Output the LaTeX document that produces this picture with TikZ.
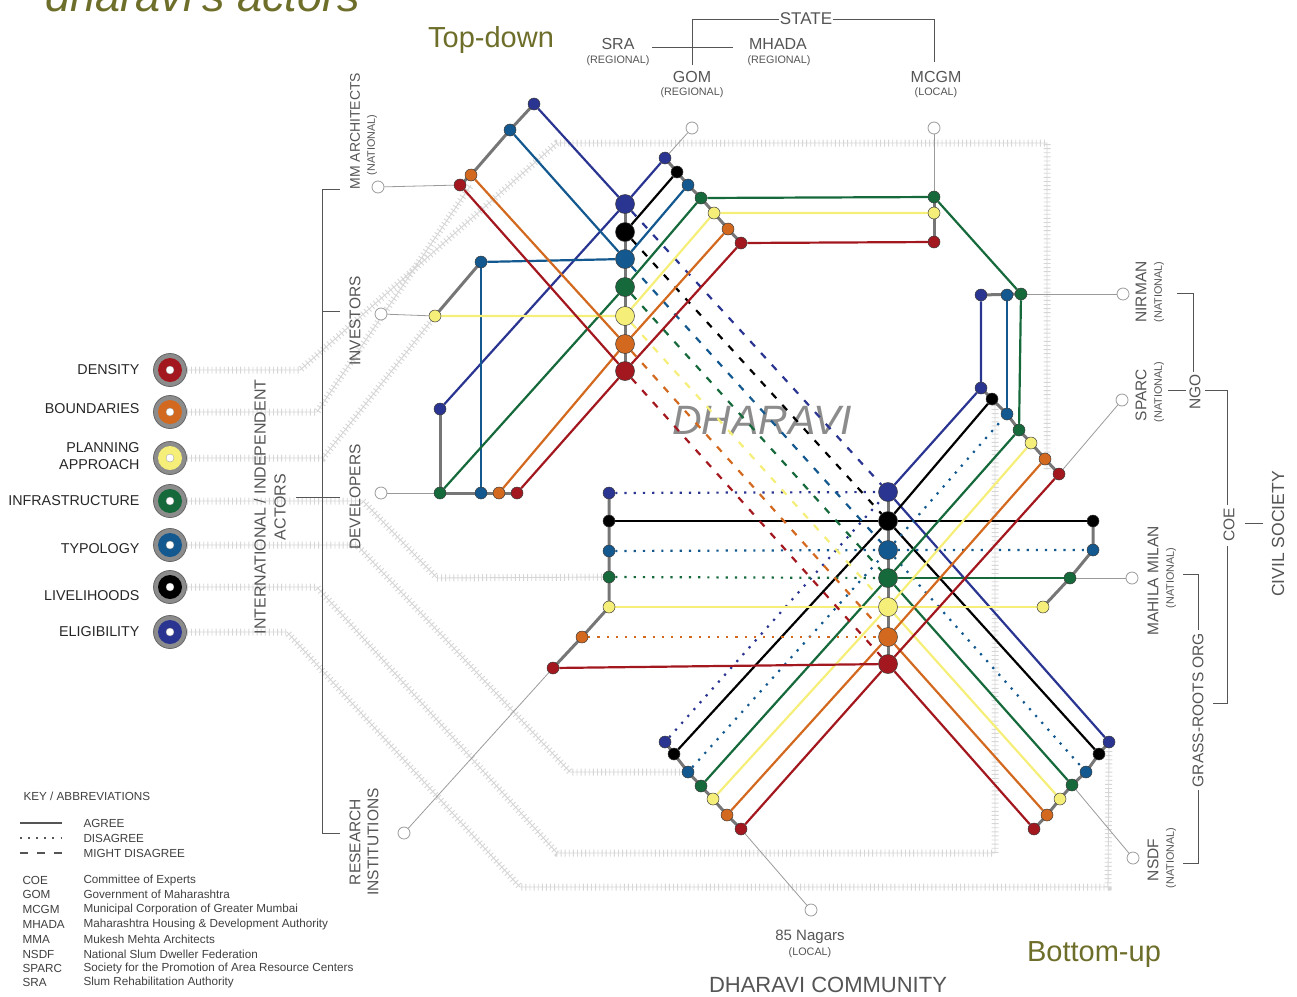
\documentclass[tikz,border=0pt]{standalone}
\usepackage{fontspec}
\setmainfont{Liberation Sans}
\definecolor{cR}{HTML}{A3171E}
\definecolor{cO}{HTML}{D2691F}
\definecolor{cY}{HTML}{F5EE78}
\definecolor{cG}{HTML}{15693A}
\definecolor{cB}{HTML}{13598F}
\definecolor{cK}{HTML}{000000}
\definecolor{cI}{HTML}{2A3491}
\definecolor{olive}{HTML}{6E6E2B}
\definecolor{railc}{HTML}{D6D6D6}
\definecolor{conng}{HTML}{767676}
\definecolor{thing}{HTML}{9A9A9A}
\definecolor{ndraw}{HTML}{3A3A3A}
\definecolor{tgray}{HTML}{555555}
\definecolor{dhg}{HTML}{8C8C8C}
\newcommand\fsz[2]{\fontsize{#1}{#2}\selectfont}
\newcommand\myrail[1]{\draw[railline] #1; \draw[railtick] #1;}
\pgfdeclarelayer{rails}
\pgfdeclarelayer{lines}
\pgfsetlayers{rails,lines,main}
\tikzset{
 railline/.style={draw=railc, line width=0.9pt, line join=round},
 railtick/.style={draw=railc, line width=7pt, dash pattern=on 0.9pt off 3.2pt},
 ag/.style={line width=2.2pt},
 dis/.style={line width=2.2pt, dash pattern=on 2.2pt off 7pt},
 mdis/.style={line width=2.2pt, dash pattern=on 7pt off 9pt},
 conn/.style={draw=conng, line width=3pt},
 thinl/.style={draw=thing, line width=0.8pt},
 brk/.style={draw=tgray, line width=0.8pt},
 sn/.style={circle, inner sep=0pt, minimum size=12pt, draw=ndraw, line width=0.5pt},
 bn/.style={sn, minimum size=19pt},
 actor/.style={circle, inner sep=0pt, minimum size=12pt, draw=thing, fill=white, line width=0.8pt},
 legring/.style={circle, inner sep=0pt, minimum size=33pt, fill=black!45, draw=black!60, line width=0.8pt},
 leglab/.style={anchor=east, align=right, font=\fsz{14.3}{17}, text=black!85},
 alab/.style={rotate=90, font=\fsz{15.5}{18}, text=tgray, align=center},
 small/.style={font=\fsz{10.8}{12}, text=tgray},
 keyt/.style={anchor=west, font=\fsz{11.7}{13}, text=black!75},
}
\begin{document}
\begin{tikzpicture}[x=1pt,y=-1pt]
\useasboundingbox (0,0) rectangle (1297,996);

% ---------- network nodes ----------
% upper hub
\node[bn,fill=cI] (uI) at (625,204) {};
\node[bn,fill=cK] (uK) at (625,232) {};
\node[bn,fill=cB] (uB) at (625,259) {};
\node[bn,fill=cG] (uG) at (625,287) {};
\node[bn,fill=cY] (uY) at (625,316) {};
\node[bn,fill=cO] (uO) at (625,344) {};
\node[bn,fill=cR] (uR) at (625,371) {};
% lower hub
\node[bn,fill=cI] (lI) at (888,492) {};
\node[bn,fill=cK] (lK) at (888,521) {};
\node[bn,fill=cB] (lB) at (888,550) {};
\node[bn,fill=cG] (lG) at (888,578) {};
\node[bn,fill=cY] (lY) at (888,607) {};
\node[bn,fill=cO] (lO) at (888,637) {};
\node[bn,fill=cR] (lR) at (888,664) {};
% MM architects
\node[sn,fill=cI] (mI) at (534,104) {};
\node[sn,fill=cB] (mB) at (510,130) {};
\node[sn,fill=cO] (mO) at (471,175) {};
\node[sn,fill=cR] (mR) at (460,185) {};
% investors
\node[sn,fill=cB] (iB) at (481,262) {};
\node[sn,fill=cY] (iY) at (435,316) {};
% developers
\node[sn,fill=cI] (dI) at (440,409) {};
\node[sn,fill=cG] (dG) at (440,493) {};
\node[sn,fill=cB] (dB) at (481,493) {};
\node[sn,fill=cO] (dO) at (499,493) {};
\node[sn,fill=cR] (dR) at (517,493) {};
% GOM
\node[sn,fill=cI] (gI) at (665,158) {};
\node[sn,fill=cK] (gK) at (677,172) {};
\node[sn,fill=cB] (gB) at (688,185) {};
\node[sn,fill=cG] (gG) at (701,198) {};
\node[sn,fill=cY] (gY) at (714,213) {};
\node[sn,fill=cO] (gO) at (728,229) {};
\node[sn,fill=cR] (gR) at (741,243) {};
% MCGM
\node[sn,fill=cG] (cG) at (934,197) {};
\node[sn,fill=cY] (cY) at (934,213) {};
\node[sn,fill=cR] (cR) at (934,242) {};
% NIRMAN
\node[sn,fill=cI] (nI) at (981,295) {};
\node[sn,fill=cB] (nB) at (1007,295) {};
\node[sn,fill=cG] (nG) at (1021,294) {};
% SPARC
\node[sn,fill=cI] (sI) at (981,388) {};
\node[sn,fill=cK] (sK) at (992,399) {};
\node[sn,fill=cB] (sB) at (1007,414) {};
\node[sn,fill=cG] (sG) at (1019,430) {};
\node[sn,fill=cY] (sY) at (1031,443) {};
\node[sn,fill=cO] (sO) at (1045,459) {};
\node[sn,fill=cR] (sR) at (1059,474) {};
% research
\node[sn,fill=cI] (rI) at (609,493) {};
\node[sn,fill=cK] (rK) at (609,521) {};
\node[sn,fill=cB] (rB) at (609,551) {};
\node[sn,fill=cG] (rG) at (609,577) {};
\node[sn,fill=cY] (rY) at (609,607) {};
\node[sn,fill=cO] (rO) at (582,637) {};
\node[sn,fill=cR] (rR) at (553,668) {};
% Mahila Milan
\node[sn,fill=cK] (hK) at (1093,521) {};
\node[sn,fill=cB] (hB) at (1093,550) {};
\node[sn,fill=cG] (hG) at (1070,578) {};
\node[sn,fill=cY] (hY) at (1043,607) {};
% 85 Nagars
\node[sn,fill=cI] (pI) at (665,742) {};
\node[sn,fill=cK] (pK) at (674,754) {};
\node[sn,fill=cB] (pB) at (688,772) {};
\node[sn,fill=cG] (pG) at (701,786) {};
\node[sn,fill=cY] (pY) at (713,799) {};
\node[sn,fill=cO] (pO) at (727,815) {};
\node[sn,fill=cR] (pR) at (741,829) {};
% NSDF
\node[sn,fill=cI] (fI) at (1109,742) {};
\node[sn,fill=cK] (fK) at (1099,754) {};
\node[sn,fill=cB] (fB) at (1086,772) {};
\node[sn,fill=cG] (fG) at (1072,785) {};
\node[sn,fill=cY] (fY) at (1060,799) {};
\node[sn,fill=cO] (fO) at (1047,815) {};
\node[sn,fill=cR] (fR) at (1034,829) {};

% actor end circles
\node[actor] (aMM) at (378,187) {};
\node[actor] (aInv) at (381,314) {};
\node[actor] (aDev) at (381,493) {};
\node[actor] (aRes) at (404,833) {};
\node[actor] (aGom) at (692,128) {};
\node[actor] (aMc) at (934,128) {};
\node[actor] (aNir) at (1123,294) {};
\node[actor] (aSp) at (1122,400) {};
\node[actor] (aMah) at (1132,578) {};
\node[actor] (aNs) at (1133,858) {};
\node[actor] (aNag) at (811,910) {};

% legend circles
\foreach \y/\c/\n in {370/cR/lgR, 412/cO/lgO, 458/cY/lgY, 501/cG/lgG, 545/cB/lgB, 587/cK/lgK, 632/cI/lgI} {
  \node[legring] (\n) at (170,\y) {};
  \node[circle, inner sep=0pt, minimum size=24pt, fill=\c] at (\n) {};
  \node[circle, inner sep=0pt, minimum size=8pt, fill=white, draw=black!40, line width=0.3pt] at (\n) {};
}
\node[leglab] (tR) at (143,370) {DENSITY};
\node[leglab] (tO) at (143,409) {BOUNDARIES};
\node[leglab] (tY) at (143,456) {PLANNING\\APPROACH};
\node[leglab] (tG) at (143,501) {INFRASTRUCTURE};
\node[leglab] (tB) at (143,549) {TYPOLOGY};
\node[leglab] (tK) at (143,596) {LIVELIHOODS};
\node[leglab] (tI) at (143,632) {ELIGIBILITY};

% ---------- rails ----------
\begin{pgfonlayer}{rails}
\myrail{(lgR.east) -- (300,370) -- (557,143) -- (1047,143) -- (1047,470)}
\myrail{(lgO.east) -- (317,412) -- (471,185)}
\myrail{(lgY.east) -- (323,458) -- (iY)}
\myrail{(lgG.east) -- (363,501) -- (437,578) -- (rG)}
\myrail{(lgB.east) -- (357,545) -- (570,772) -- (pB)}
\myrail{(lgK.east) -- (317,587) -- (557,853) -- (995,853) -- (995,405)}
\myrail{(lgI.east) -- (287,632) -- (520,887) -- (1108,887) -- (fI)}
\end{pgfonlayer}

% ---------- lines ----------
\begin{pgfonlayer}{lines}
\node[font=\fsz{41}{41}\itshape, text=dhg] (dhar) at (762,420) {DHARAVI};
% indigo
\draw[ag,cI] (mI) -- (uI);
\draw[ag,cI] (dI) -- (uI) -- (gI);
\draw[mdis,cI] (uI) -- (lI);
\draw[dis,cI] (pI) -- (lI);
\draw[ag,cI] (lI) -- (sI) -- (nI);
\draw[ag,cI] (lI) -- (fI);
\draw[dis,cI] (rI) -- (lI);
% black
\draw[ag,cK] (gK) -- (uK);
\draw[mdis,cK] (uK) -- (lK);
\draw[ag,cK] (rK) -- (lK) -- (hK);
\draw[ag,cK] (pK) -- (lK) -- (sK);
\draw[ag,cK] (lK) -- (fK);
% blue
\draw[ag,cB] (mB) -- (uB);
\draw[ag,cB] (gB) -- (uB);
\draw[ag,cB] (iB) -- (uB);
\draw[ag,cB] (iB) -- (dB);
\draw[mdis,cB] (uB) -- (lB);
\draw[dis,cB] (rB) -- (lB) -- (hB);
\draw[dis,cB] (pB) -- (lB) -- (sB);
\draw[ag,cB] (sB) -- (nB);
\draw[dis,cB] (lB) -- (fB);
% green
\draw[ag,cG] (dG) -- (uG) -- (gG) -- (cG) -- (nG) -- (sG);
\draw[mdis,cG] (uG) -- (lG);
\draw[dis,cG] (rG) -- (lG);
\draw[ag,cG] (lG) -- (hG);
\draw[ag,cG] (pG) -- (lG) -- (sG);
\draw[ag,cG] (lG) -- (fG);
% yellow
\draw[ag,cY] (iY) -- (uY) -- (gY) -- (cY);
\draw[mdis,cY] (uY) -- (lY);
\draw[ag,cY] (rY) -- (lY) -- (hY);
\draw[ag,cY] (pY) -- (lY) -- (sY);
\draw[ag,cY] (lY) -- (fY);
% orange
\draw[ag,cO] (mO) -- (uO);
\draw[ag,cO] (dO) -- (uO) -- (gO);
\draw[mdis,cO] (uO) -- (lO);
\draw[dis,cO] (rO) -- (lO);
\draw[ag,cO] (pO) -- (lO) -- (sO);
\draw[ag,cO] (lO) -- (fO);
% red
\draw[ag,cR] (mR) -- (uR);
\draw[ag,cR] (dR) -- (uR) -- (gR) -- (cR);
\draw[mdis,cR] (uR) -- (lR);
\draw[ag,cR] (rR) -- (lR);
\draw[ag,cR] (pR) -- (lR) -- (sR);
\draw[ag,cR] (lR) -- (fR);
% gray connectors
\draw[conn] (mI.center) -- (mB.center) -- (mO.center) -- (mR.center);
\draw[conn] (iY.center) -- (iB.center);
\draw[conn] (dI.center) -- (dG.center) -- (dR.center);
\draw[conn] (uI.center) -- (uR.center);
\draw[conn] (gI.center) -- (gK.center) -- (gB.center) -- (gG.center) -- (gY.center) -- (gO.center) -- (gR.center);
\draw[conn] (cG.center) -- (cR.center);
\draw[conn] (nI.center) -- (nG.center);
\draw[conn] (sI.center) -- (sK.center) -- (sB.center) -- (sG.center) -- (sY.center) -- (sO.center) -- (sR.center);
\draw[conn] (rI.center) -- (rY.center) -- (rO.center) -- (rR.center);
\draw[conn] (hK.center) -- (hB.center) -- (hG.center) -- (hY.center);
\draw[conn] (lI.center) -- (lR.center);
\draw[conn] (pI.center) -- (pK.center) -- (pB.center) -- (pG.center) -- (pY.center) -- (pO.center) -- (pR.center);
\draw[conn] (fI.center) -- (fK.center) -- (fB.center) -- (fG.center) -- (fY.center) -- (fO.center) -- (fR.center);
% actor links
\draw[thinl] (aMM) -- (mR);
\draw[thinl] (aInv) -- (iY);
\draw[thinl] (aDev) -- (dG);
\draw[thinl] (aRes) -- (rR);
\draw[thinl] (aGom) -- (gI);
\draw[thinl] (aMc) -- (cG);
\draw[thinl] (aNir) -- (nG);
\draw[thinl] (aSp) -- (sR);
\draw[thinl] (aMah) -- (hG);
\draw[thinl] (aNs) -- (fG);
\draw[thinl] (aNag) -- (pR);
\end{pgfonlayer}

% ---------- titles ----------
\node[anchor=base west, font=\fsz{45}{45}\itshape, text=olive] (title) at (42,11) {dharavi's actors};
\node[font=\fsz{29}{29}, text=olive] (topdown) at (491,40) {Top-down};
\node[font=\fsz{29}{29}, text=olive] (bottomup) at (1094,955) {Bottom-up};

% state labels
\node[font=\fsz{17}{17}, text=tgray, inner sep=1pt] (state) at (806,19) {STATE};
\node[font=\fsz{16}{16}, text=tgray] (sra) at (618,44) {SRA};
\node[small] (sraR) at (618,61) {(REGIONAL)};
\node[font=\fsz{16}{16}, text=tgray] (mhada) at (778,44) {MHADA};
\node[small] (mhadaR) at (779,61) {(REGIONAL)};
\node[font=\fsz{16}{16}, text=tgray] (gom) at (692,77) {GOM};
\node[small] (gomR) at (692,93) {(REGIONAL)};
\node[font=\fsz{16}{16}, text=tgray] (mcgm) at (936,77) {MCGM};
\node[small] (mcgmR) at (936,93) {(LOCAL)};
\draw[brk] (state.west) -- (692,19) -- (692,65);
\draw[brk] (state.east) -- (934,19) -- (934,62);
\draw[brk] (652,47) -- (733,47);

% left actor labels
\node[alab, font=\fsz{14}{16}] (mmlab) at (355,131) {MM ARCHITECTS};
\node[alab, small] (mmnat) at (372,145) {(NATIONAL)};
\node[alab] (invlab) at (355,321) {INVESTORS};
\node[alab] (devlab) at (355,497) {DEVELOPERS};
\node[alab] (reslab) at (364,842) {RESEARCH\\INSTITUTIONS};
\node[alab, font=\fsz{16}{20}] (intl) at (270,507) {INTERNATIONAL / INDEPENDENT\\ACTORS};
\draw[brk] (340,189) -- (322,189) -- (322,833) -- (340,833);
\draw[brk] (322,311) -- (340,311);
\draw[brk] (296,497) -- (340,497);

% right labels
\node[alab] (nirlab) at (1141,292) {NIRMAN};
\node[alab, small] (nirnat) at (1159,292) {(NATIONAL)};
\node[alab] (splab) at (1141,395) {SPARC};
\node[alab, small] (spnat) at (1159,392) {(NATIONAL)};
\node[alab] (mahlab) at (1153,581) {MAHILA MILAN};
\node[alab, small] (mahnat) at (1171,578) {(NATIONAL)};
\node[alab] (nslab) at (1153,860) {NSDF};
\node[alab, small] (nsnat) at (1171,858) {(NATIONAL)};
\node[alab] (ngo) at (1195,392) {NGO};
\node[alab] (coe) at (1229,525) {COE};
\node[alab, font=\fsz{17.5}{20}] (civil) at (1278,534) {CIVIL SOCIETY};
\node[alab] (grass) at (1198,710) {GRASS-ROOTS ORG};
\draw[brk] (1177,293) -- (1193,293) -- (1193,372);
\draw[brk] (1168,390) -- (1186,390);
\draw[brk] (1205,390) -- (1227,390) -- (1227,505);
\draw[brk] (1227,546) -- (1227,703) -- (1213,703);
\draw[brk] (1245,523) -- (1263,523);
\draw[brk] (1183,574) -- (1198,574) -- (1198,630);
\draw[brk] (1198,790) -- (1198,863) -- (1183,863);

% bottom labels
\node[font=\fsz{15}{15}, text=tgray] (nag) at (810,937) {85 Nagars};
\node[small] (nagL) at (810,953) {(LOCAL)};
\node[font=\fsz{22}{22}, text=tgray] (comm) at (828,985) {DHARAVI COMMUNITY};

% key
\node[keyt] (key) at (20,796) {KEY / ABBREVIATIONS};
\coordinate (k1a) at (20,823); \coordinate (k1b) at (62,823);
\coordinate (k2a) at (20,838); \coordinate (k2b) at (62,838);
\coordinate (k3a) at (20,853); \coordinate (k3b) at (62,853);
\draw[draw=tgray, line width=1.8pt] (k1a) -- (k1b);
\draw[draw=tgray, line width=1.6pt, dash pattern=on 1.6pt off 6.5pt] (k2a) -- (k2b);
\draw[draw=tgray, line width=1.8pt, dash pattern=on 8pt off 9pt] (k3a) -- (k3b);
\node[keyt] at (80,823) {AGREE};
\node[keyt] at (80,838) {DISAGREE};
\node[keyt] at (80,853) {MIGHT DISAGREE};
\foreach \y/\a/\b in {880/COE/Committee of Experts, 894/GOM/Government of Maharashtra, 909/MCGM/Municipal Corporation of Greater Mumbai, 924/MHADA/Maharashtra Housing \& Development Authority, 939/MMA/Mukesh Mehta Architects, 954/NSDF/National Slum Dweller Federation, 968/SPARC/Society for the Promotion of Area Resource Centers, 982/SRA/Slum Rehabilitation Authority} {
  \node[keyt] at (19,\y) {\a};
  \node[keyt] at (80,\y) {\b};
}
\end{tikzpicture}
\end{document}
